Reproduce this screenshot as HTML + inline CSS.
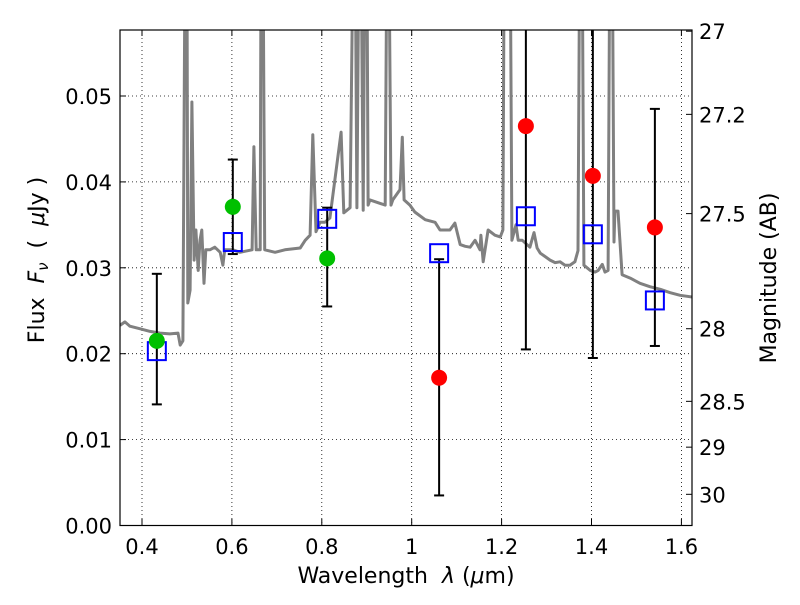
<!DOCTYPE html>
<html><head><meta charset="utf-8"><style>
body{margin:0;background:#fff;}
svg text{font-family:"DejaVu Sans","Liberation Sans",sans-serif;fill:#000;white-space:pre;}
</style></head><body>
<svg id="chart" width="800" height="600" viewBox="0 0 800 600" xml:space="preserve">
<defs><clipPath id="clip"><rect x="120" y="30" width="572" height="495.5"/></clipPath></defs>
<rect x="0" y="0" width="800" height="600" fill="#fff"/>
<g id="grid"></g>
<g id="plot" clip-path="url(#clip)"></g>
<rect x="120" y="30" width="572" height="495.5" fill="none" stroke="#000" stroke-width="1.2"/>
<g id="axes"></g>
<text x="406" y="583" font-size="22" text-anchor="middle">Wavelength  <tspan font-style="italic">λ</tspan> (<tspan font-style="italic">μ</tspan>m)</text>
<text transform="translate(44,260) rotate(-90)" font-size="22" text-anchor="middle">Flux  <tspan font-style="italic">F</tspan><tspan font-style="italic" font-size="15" dy="4">ν</tspan><tspan dy="-4">  (  </tspan><tspan font-style="italic">μ</tspan>Jy )</text>
<text transform="translate(776,278) rotate(-90)" font-size="22" text-anchor="middle">Magnitude (AB)</text>
</svg>
<script>
const xTicks=[0.4,0.6,0.8,1.0,1.2,1.4,1.6];
const xTickLabels=["0.4","0.6","0.8","1","1.2","1.4","1.6"];
const yTicks=[0,0.01,0.02,0.03,0.04,0.05];
const yTickLabels=["0.00","0.01","0.02","0.03","0.04","0.05"];
const magTicks=[27,27.2,27.5,28,28.5,29,30];
const magTickLabels=["27","27.2","27.5","28","28.5","29","30"];
const specLam=[0.351,0.362,0.373,0.396,0.418,0.440,0.462,0.480,0.485,0.491,0.496,0.500,0.502,0.507,0.511,0.516,0.520,0.525,0.529,0.533,0.538,0.542,0.551,0.562,0.574,0.580,0.584,0.602,0.618,0.645,0.649,0.654,0.663,0.665,0.669,0.673,0.696,0.718,0.752,0.763,0.774,0.780,0.787,0.796,0.807,0.818,0.843,0.849,0.863,0.870,0.874,0.878,0.883,0.887,0.892,0.896,0.900,0.903,0.907,0.930,0.941,0.945,0.949,0.954,0.958,0.974,0.979,0.983,0.996,1.007,1.030,1.052,1.063,1.085,1.096,1.108,1.119,1.130,1.141,1.152,1.154,1.159,1.170,1.185,1.197,1.203,1.206,1.219,1.223,1.232,1.237,1.246,1.263,1.272,1.279,1.286,1.297,1.308,1.319,1.330,1.341,1.352,1.363,1.370,1.374,1.379,1.383,1.397,1.408,1.415,1.424,1.430,1.437,1.441,1.446,1.450,1.452,1.459,1.468,1.486,1.508,1.530,1.553,1.575,1.597,1.624];
const specFlux=[.0233,.0237,.0232,.0229,.0226,.0224,.0223,.0224,.0210,.0215,.07,.07,.0259,.0274,.0493,.0309,.0344,.0297,.0332,.0344,.0282,.0321,.0321,.0324,.0318,.0303,.0321,.0321,.0318,.0321,.0441,.0321,.0321,.07,.07,.0321,.0318,.0321,.0323,.0332,.0338,.0455,.0342,.0353,.0353,.0358,.0458,.0364,.0370,.07,.07,.0370,.07,.07,.0367,.07,.07,.0373,.0379,.0375,.0373,.07,.07,.0373,.0379,.0391,.0452,.0379,.0373,.0365,.0356,.0353,.0344,.0344,.0352,.0327,.0325,.0324,.0332,.0321,.0338,.0307,.0344,.0338,.0336,.0344,.07,.07,.0332,.0350,.0332,.0332,.0324,.0341,.0323,.0317,.0313,.0309,.0306,.0307,.0303,.0303,.0307,.0320,.07,.07,.0303,.0297,.0295,.0297,.0304,.0295,.0297,.07,.07,.0330,.0366,.0366,.0292,.0288,.0282,.0278,.0275,.0271,.0268,.0266];
const obsLam=[0.433,0.602,0.812,1.061,1.254,1.403,1.541];
const obsFlux=[0.0215,0.0371,0.0311,0.0172,0.0465,0.0407,0.0347];
const obsLow=[0.0141,0.0316,0.0255,0.0035,0.0205,0.0195,0.0209];
const obsHigh=[0.0293,0.0426,0.0370,0.0310,0.0750,0.0750,0.0485];
const obsColor=["#00c000","#00c000","#00c000","#ff0000","#ff0000","#ff0000","#ff0000"];
const modelFlux=[0.0203,0.0330,0.0357,0.0317,0.0360,0.0339,0.0262];

const NS="http://www.w3.org/2000/svg";
const X=l=>142+(l-0.4)*449.5;
const Y=f=>525.5-f*8590;
const M=m=>Y(Math.pow(10,(23.9-m)/2.5));
function mk(parent,tag,attrs){const e=document.createElementNS(NS,tag);for(const k in attrs)e.setAttribute(k,attrs[k]);parent.appendChild(e);return e;}
const grid=document.getElementById('grid'),plot=document.getElementById('plot'),axes=document.getElementById('axes');
xTicks.forEach((t,i)=>{
  const gl=mk(grid,'line',{x1:X(t),x2:X(t),y1:30,y2:525.5,stroke:'#000','stroke-width':0.8,'stroke-dasharray':'1,3'});
  
  
  mk(axes,'line',{x1:X(t),x2:X(t),y1:525.5,y2:519,stroke:'#000'});
  mk(axes,'line',{x1:X(t),x2:X(t),y1:30,y2:36,stroke:'#000'});
  const tx=mk(axes,'text',{x:X(t),y:554,'font-size':21,'text-anchor':'middle'});tx.textContent=xTickLabels[i];
  
  
});
yTicks.forEach((t,i)=>{
  if(t>0){const gl=mk(grid,'line',{x1:120,x2:692,y1:Y(t),y2:Y(t),stroke:'#000','stroke-width':0.8,'stroke-dasharray':'1,3'});
  
  }
  mk(axes,'line',{x1:120,x2:126,y1:Y(t),y2:Y(t),stroke:'#000'});
  const tx=mk(axes,'text',{x:112,y:Y(t)+8,'font-size':21,'text-anchor':'end'});tx.textContent=yTickLabels[i];
  
  
});
magTicks.forEach((m,i)=>{
  mk(axes,'line',{x1:692,x2:686,y1:M(m),y2:M(m),stroke:'#000'});
  const tx=mk(axes,'text',{x:699,y:M(m)+8,'font-size':21});tx.textContent=magTickLabels[i];
  
  
});
const pts=specLam.map((l,i)=>X(l).toFixed(1)+','+Y(specFlux[i]).toFixed(1)).join(' ');
const sp=mk(plot,'polyline',{points:pts,fill:'none',stroke:'#808080','stroke-width':3,'stroke-linejoin':'round'});


obsLam.forEach((l,i)=>{
  const x=X(l);
  const eb=mk(plot,'g',{});
  
  
  mk(eb,'line',{x1:x,x2:x,y1:Y(obsLow[i]),y2:Y(obsHigh[i]),stroke:'#000','stroke-width':2});
  mk(eb,'line',{x1:x-5,x2:x+5,y1:Y(obsLow[i]),y2:Y(obsLow[i]),stroke:'#000','stroke-width':2});
  mk(eb,'line',{x1:x-5,x2:x+5,y1:Y(obsHigh[i]),y2:Y(obsHigh[i]),stroke:'#000','stroke-width':2});
});
obsLam.forEach((l,i)=>{
  const sq=mk(plot,'rect',{x:X(l)-9,y:Y(modelFlux[i])-9,width:18,height:18,fill:'none',stroke:'#0000ff','stroke-width':2});
  
  
});
obsLam.forEach((l,i)=>{
  const c=mk(plot,'circle',{cx:X(l),cy:Y(obsFlux[i]),r:8,fill:obsColor[i]});
  
  
});
</script>
</body></html>
